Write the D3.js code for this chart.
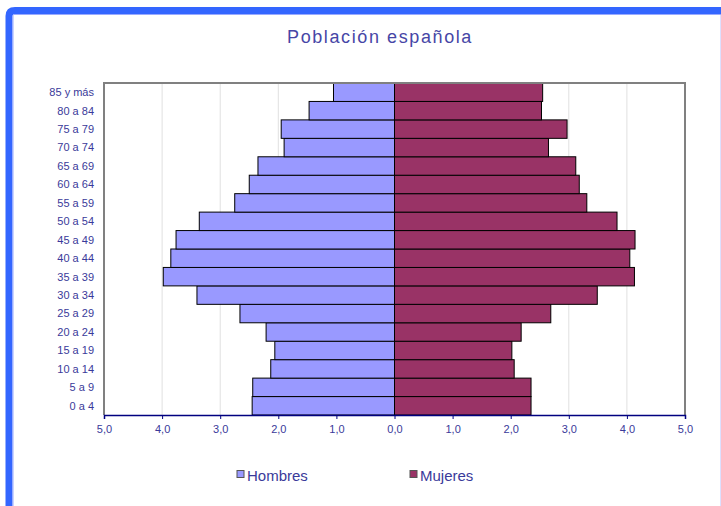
<!DOCTYPE html>
<html><head><meta charset="utf-8">
<script src="https://cdn.jsdelivr.net/npm/d3@7"></script>
<style>body{margin:0;background:#fff;}svg{display:block;font-family:"Liberation Sans",Arial,sans-serif;}</style>
</head><body>
<script>
const categories = ["0 a 4","5 a 9","10 a 14","15 a 19","20 a 24","25 a 29","30 a 34","35 a 39","40 a 44","45 a 49","50 a 54","55 a 59","60 a 64","65 a 69","70 a 74","75 a 79","80 a 84","85 y más"];
const hombres = [2.45,2.44,2.13,2.06,2.21,2.66,3.40,3.98,3.85,3.76,3.36,2.75,2.50,2.35,1.90,1.95,1.47,1.05];
const mujeres = [2.35,2.35,2.06,2.02,2.18,2.69,3.49,4.13,4.05,4.14,3.83,3.31,3.18,3.12,2.65,2.97,2.53,2.55];
const xTicks = [-5,-4,-3,-2,-1,0,1,2,3,4,5];
const seriesNames = ["Hombres","Mujeres"];
const colors = {Hombres:"#9999ff", Mujeres:"#993366"};
const textColor = "#3a3a9a";

const W=721,H=506;
const svg=d3.select("body").append("svg").attr("width",W).attr("height",H);

// frame
svg.append("path").attr("d","M9,506 L9,16 Q9,10.5 15,10.5 L721,10.5").attr("fill","none").attr("stroke","#3366ff").attr("stroke-width",7);
svg.append("line").attr("x1",13).attr("x2",13).attr("y1",15).attr("y2",506).attr("stroke","#99aaff").attr("stroke-width",1);
svg.append("line").attr("x1",13).attr("x2",721).attr("y1",14.5).attr("y2",14.5).attr("stroke","#99aaff").attr("stroke-width",1);
svg.append("line").attr("x1",720.5).attr("x2",720.5).attr("y1",15).attr("y2",506).attr("stroke","#dde0ff").attr("stroke-width",1);

svg.append("text").attr("x",380).attr("y",43).attr("text-anchor","middle").attr("fill","#4646a6")
  .style("font-size","18px").style("letter-spacing","1.6px").text("Población española");

const L=104,R=685,T=83,B=415;
const x=d3.scaleLinear().domain([-5,5]).range([L,R]);
const y=d3.scaleBand().domain(categories.slice().reverse()).range([T,B]).padding(0);

// gridlines
svg.append("g").selectAll("line").data(xTicks.filter(d=>d!==0&&Math.abs(d)!==5)).join("line")
  .attr("x1",d=>x(d)).attr("x2",d=>x(d)).attr("y1",T).attr("y2",B).attr("stroke","#e0e0e0").attr("stroke-width",1);

// bars
svg.append("g").selectAll("rect").data(categories).join("rect")
  .attr("x",(d,i)=>x(-hombres[i])).attr("y",d=>y(d)).attr("width",(d,i)=>x(0)-x(-hombres[i])).attr("height",y.bandwidth())
  .attr("fill",colors.Hombres).attr("stroke","#000").attr("stroke-width",1);
svg.append("g").selectAll("rect").data(categories).join("rect")
  .attr("x",x(0)).attr("y",d=>y(d)).attr("width",(d,i)=>x(mujeres[i])-x(0)).attr("height",y.bandwidth())
  .attr("fill",colors.Mujeres).attr("stroke","#000").attr("stroke-width",1);

// plot border
svg.append("path").attr("d",`M${L},${B} L${L},${T} L${R},${T} L${R},${B}`).attr("fill","none").attr("stroke","#808080").attr("stroke-width",2);

// x axis
const xa=svg.append("g").attr("transform",`translate(0,${B})`)
  .call(d3.axisBottom(x).tickValues(xTicks).tickSize(4).tickFormat(d=>d3.format(".1f")(Math.abs(d)).replace(".",",")));
xa.select(".domain").attr("stroke","#000080").attr("stroke-width",1.5);
xa.selectAll(".tick line").attr("stroke","#000080");
xa.selectAll("text").attr("fill",textColor).style("font-size","11px").attr("dy","1em");

// y axis labels
svg.append("g").selectAll("text").data(categories).join("text")
  .attr("x",94).attr("y",d=>y(d)+y.bandwidth()/2).attr("dy","0.35em").attr("text-anchor","end")
  .attr("fill",textColor).style("font-size","11px").text(d=>d);

// legend
const lx=[237,410];
seriesNames.forEach((s,i)=>{
  svg.append("rect").attr("x",lx[i]).attr("y",470.5).attr("width",7).attr("height",7).attr("fill",colors[s]).attr("stroke","#555").attr("stroke-width",1);
  svg.append("text").attr("x",lx[i]+10).attr("y",481).attr("fill",textColor).style("font-size","15px").text(s);
});
</script>
</body></html>
